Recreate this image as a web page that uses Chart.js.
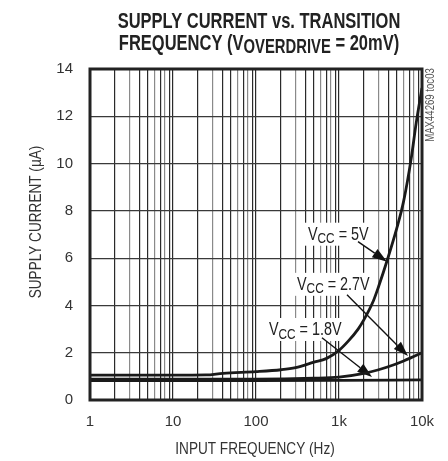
<!DOCTYPE html>
<html>
<head>
<meta charset="utf-8">
<script src="https://cdn.jsdelivr.net/npm/chart.js@4"></script>
<style>
  body { margin: 0; background: #fff; }
  canvas { display: block; }
</style>
</head>
<body>
<canvas id="grafico" width="448" height="461"></canvas>
<script>
// datos
const freq5 = [1, 10, 25, 40, 100, 200, 300, 500, 700, 1000, 1300, 1700, 2000, 2600, 3000, 3800, 5000, 6000, 7400, 8500, 10000];
const vcc5 = [1.05, 1.05, 1.06, 1.13, 1.2, 1.28, 1.37, 1.6, 1.75, 2.1, 2.5, 3.0, 3.4, 4.2, 4.8, 5.9, 7.3, 8.4, 10.2, 11.7, 13.2];

const freq27 = [1, 100, 500, 1000, 2000, 3000, 4500, 6000, 7200, 10000];
const vcc27 = [0.88, 0.88, 0.92, 0.97, 1.13, 1.28, 1.48, 1.65, 1.77, 2.0];

const freq18 = [1, 100, 1000, 10000];
const vcc18 = [0.82, 0.82, 0.83, 0.85];

const xTickValues = [1, 10, 100, 1000, 10000];
const xTickLabels = ["1", "10", "100", "1k", "10k"];
const yTicks = [0, 2, 4, 6, 8, 10, 12, 14];

const seriesNames = ["5V", "2.7V", "1.8V"];

// posiciones de las etiquetas (en coordenadas de datos)
const ETIQUETAS = [
  {texto: seriesNames[0], x: 423, y: 6.78, desde: [1694, 6.7], punta: [3790, 5.85]},
  {texto: seriesNames[1], x: 312, y: 4.66, desde: [1248, 4.45], punta: [6780, 1.86]},
  {texto: seriesNames[2], x: 143, y: 2.75, desde: [624, 2.63], punta: [2500, 0.97]}
];

const FUENTE = "'Liberation Sans', Arial, sans-serif";

// lineas de rejilla menores 1..9 por decada
let gridValues = [];
for (let d = 1; d <= 1000; d *= 10) {
  for (let m = 1; m < 10; m++) gridValues.push(m * d);
}
gridValues.push(10000);

function puntos(xs, ys) {
  return xs.map((x, i) => ({x: x, y: ys[i]}));
}

// la fuente original es condensada: se dibuja con escala horizontal
function anchoSub(ctx, partes, size, bold, esc, sub) {
  const peso = bold ? "bold " : "";
  let ancho = 0;
  partes.forEach(p => {
    ctx.font = peso + (p[1] ? size * sub : size) + "px " + FUENTE;
    ancho += ctx.measureText(p[0]).width;
  });
  return ancho * esc;
}

// partes = [[texto, esSub], ...]
function textoSub(ctx, partes, x, y, size, bold, esc, sub, baja) {
  const peso = bold ? "bold " : "";
  ctx.save();
  ctx.translate(x, y);
  ctx.scale(esc, 1);
  ctx.textAlign = "left";
  ctx.textBaseline = "alphabetic";
  let cx = 0;
  partes.forEach(p => {
    ctx.font = peso + (p[1] ? size * sub : size) + "px " + FUENTE;
    ctx.fillText(p[0], cx, p[1] ? baja : 0);
    cx += ctx.measureText(p[0]).width;
  });
  ctx.restore();
}

function textoCentro(ctx, str, x, y, size, ang, esc) {
  ctx.save();
  ctx.translate(x, y);
  ctx.rotate(ang);
  ctx.scale(esc, 1);
  ctx.font = size + "px " + FUENTE;
  ctx.textAlign = "center";
  ctx.textBaseline = "middle";
  ctx.fillText(str, 0, 0);
  ctx.restore();
}

function flecha(ctx, x1, y1, x2, y2) {
  const ang = Math.atan2(y2 - y1, x2 - x1);
  const largo = 15, medio = 5;
  const bx = x2 - largo * Math.cos(ang), by = y2 - largo * Math.sin(ang);
  ctx.strokeStyle = "#111";
  ctx.lineWidth = 1.4;
  ctx.beginPath();
  ctx.moveTo(x1, y1);
  ctx.lineTo(bx, by);
  ctx.stroke();
  ctx.fillStyle = "#111";
  ctx.beginPath();
  ctx.moveTo(x2, y2);
  ctx.lineTo(bx + medio * Math.sin(ang), by - medio * Math.cos(ang));
  ctx.lineTo(bx - medio * Math.sin(ang), by + medio * Math.cos(ang));
  ctx.closePath();
  ctx.fill();
}

const textosPlugin = {
  id: "textos",
  beforeDatasetsDraw(chart) {
    const ctx = chart.ctx;
    const xs = chart.scales.x, ys = chart.scales.y;
    ctx.save();
    ETIQUETAS.forEach(e => {
      const partes = [["V", false], ["CC", true], [" = " + e.texto, false]];
      const px = xs.getPixelForValue(e.x), py = ys.getPixelForValue(e.y);
      const w = anchoSub(ctx, partes, 18, false, 0.8, 0.82);
      ctx.fillStyle = "#fff";
      ctx.fillRect(px - 3, py - 17, w + 6, 23);
      ctx.fillStyle = "#222";
      textoSub(ctx, partes, px, py, 18, false, 0.8, 0.82, 3.6);
      flecha(ctx, xs.getPixelForValue(e.desde[0]), ys.getPixelForValue(e.desde[1]),
        xs.getPixelForValue(e.punta[0]), ys.getPixelForValue(e.punta[1]));
    });
    ctx.restore();
  },
  afterDraw(chart) {
    const ctx = chart.ctx;
    const a = chart.chartArea;
    ctx.save();
    // marco
    ctx.strokeStyle = "#222";
    ctx.lineWidth = 3;
    ctx.strokeRect(a.left, a.top, a.right - a.left, a.bottom - a.top);

    // titulo
    ctx.fillStyle = "#222";
    const linea1 = [["SUPPLY CURRENT vs. TRANSITION", false]];
    const w1 = anchoSub(ctx, linea1, 22, true, 0.75, 1);
    textoSub(ctx, linea1, 259 - w1 / 2, 28, 22, true, 0.75, 1, 0);
    const linea2 = [["FREQUENCY (V", false], ["OVERDRIVE", true], [" = 20mV)", false]];
    const w2 = anchoSub(ctx, linea2, 22, true, 0.75, 0.9);
    textoSub(ctx, linea2, 259 - w2 / 2, 50, 22, true, 0.75, 0.9, 3);

    // titulos de ejes
    ctx.fillStyle = "#333";
    textoCentro(ctx, "INPUT FREQUENCY (Hz)", 255, 449, 17, 0, 0.8);
    textoCentro(ctx, "SUPPLY CURRENT (\u00b5A)", 36, 222, 17, -Math.PI / 2, 0.8);

    // codigo de la figura
    ctx.fillStyle = "#555";
    textoCentro(ctx, "MAX44269 toc03", 431, 105, 12, -Math.PI / 2, 0.8);
    ctx.restore();
  }
};

const estiloLinea = {
  borderColor: "#1a1a1a",
  borderWidth: 2.8,
  pointRadius: 0,
  fill: false,
  cubicInterpolationMode: "monotone"
};

new Chart("grafico", {
  type: "line",
  data: {
    datasets: [
      Object.assign({label: seriesNames[0], data: puntos(freq5, vcc5)}, estiloLinea),
      Object.assign({label: seriesNames[1], data: puntos(freq27, vcc27)}, estiloLinea),
      Object.assign({label: seriesNames[2], data: puntos(freq18, vcc18)}, estiloLinea)
    ]
  },
  options: {
    responsive: false,
    devicePixelRatio: 1,
    animation: false,
    layout: {padding: {left: 0, right: 26, top: 69, bottom: 0}},
    plugins: {legend: {display: false}, tooltip: {enabled: false}},
    scales: {
      x: {
        type: "logarithmic",
        min: 1,
        max: 10000,
        afterFit: s => { s.height = 61; },
        afterBuildTicks: s => { s.ticks = gridValues.map(v => ({value: v})); },
        border: {display: false},
        grid: {
          drawTicks: false,
          lineWidth: 1.2,
          color: c => {
            const v = c.tick ? c.tick.value : 1;
            const m = Math.round(v / Math.pow(10, Math.floor(Math.log10(v) + 1e-9)));
            return [3, 6, 8].includes(m) ? "#8a8a8a" : "#2a2a2a";
          }
        },
        ticks: {
          autoSkip: false,
          maxRotation: 0,
          padding: 13,
          color: "#333",
          font: {family: FUENTE, size: 15},
          callback: v => {
            const i = xTickValues.indexOf(v);
            return i >= 0 ? xTickLabels[i] : "";
          }
        }
      },
      y: {
        min: 0,
        max: 14,
        afterFit: s => { s.width = 90; },
        afterBuildTicks: s => { s.ticks = yTicks.map(v => ({value: v})); },
        border: {display: false},
        grid: {drawTicks: false, color: "#3a3a3a", lineWidth: 1.2},
        ticks: {
          padding: 17,
          color: "#333",
          font: {family: FUENTE, size: 15}
        }
      }
    }
  },
  plugins: [textosPlugin]
});
</script>
</body>
</html>
